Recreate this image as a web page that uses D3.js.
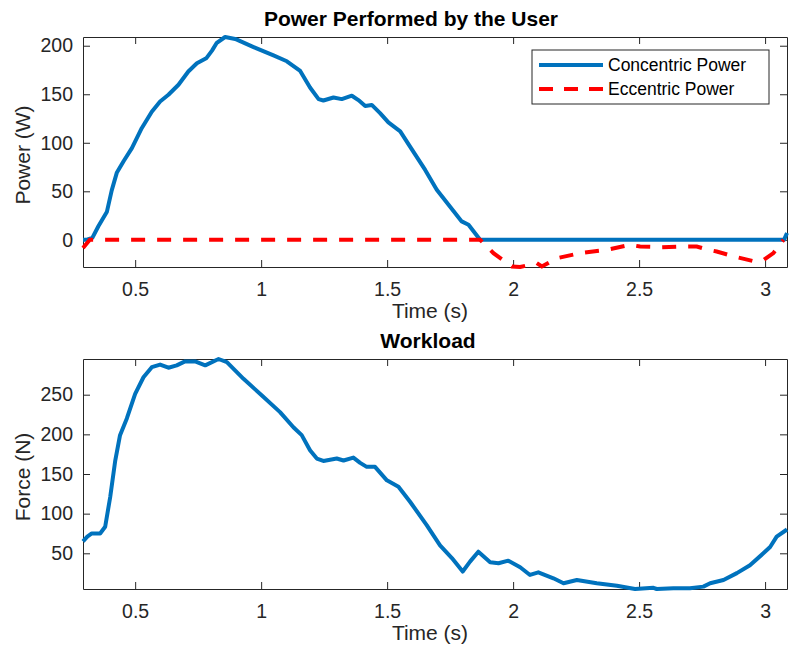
<!DOCTYPE html>
<html>
<head>
<meta charset="utf-8">
<script src="https://cdn.jsdelivr.net/npm/d3@7"></script>
<style>
  body { margin: 0; background: #fff; }
  svg { font-family: "Liberation Sans", Arial, Helvetica, sans-serif; }
</style>
</head>
<body>
<div class="chart"></div>
<script>
// concentric / eccentric power, top panel
const concTime = [0.293, 0.305, 0.33, 0.354, 0.388, 0.407, 0.427, 0.454, 0.487, 0.526, 0.566, 0.599, 0.632, 0.672, 0.711, 0.745, 0.782, 0.805, 0.824, 0.857, 0.897, 0.97, 1.049, 1.102, 1.155, 1.194, 1.228, 1.247, 1.287, 1.32, 1.36, 1.386, 1.413, 1.439, 1.472, 1.505, 1.552, 1.591, 1.651, 1.697, 1.75, 1.796, 1.823, 1.869, 3.075, 3.087];
const concPower = [0, 0, 2, 14, 29, 51, 69, 81, 94.5, 115, 132, 142.6, 149.5, 159.8, 173.5, 182, 187, 195, 203, 209, 207, 198.6, 190, 184, 174, 157, 145, 143.6, 146.7, 145, 148.5, 144, 138, 139, 130.6, 121, 111.7, 96, 72, 51.5, 34, 19, 15.5, 0, 0, 7];

const eccTime = [0.293, 0.32, 1.869, 1.922, 1.995, 2.028, 2.094, 2.114, 2.173, 2.266, 2.372, 2.464, 2.504, 2.583, 2.663, 2.729, 2.775, 2.808, 2.874, 2.954, 2.993, 3.033, 3.073];
const eccPower = [-8.5, 0, 0, -13.7, -27.5, -28, -24, -27.5, -19, -13.7, -10.3, -5.2, -6.9, -7.6, -6.9, -6.9, -10.3, -12, -17, -22, -21, -13.7, 0];

// workload, bottom panel
const forceTime = [0.293, 0.31, 0.328, 0.361, 0.381, 0.401, 0.421, 0.44, 0.467, 0.5, 0.533, 0.566, 0.599, 0.632, 0.665, 0.698, 0.738, 0.778, 0.831, 0.864, 0.93, 1.003, 1.075, 1.128, 1.161, 1.194, 1.221, 1.247, 1.3, 1.327, 1.366, 1.393, 1.419, 1.452, 1.499, 1.545, 1.591, 1.657, 1.71, 1.757, 1.8, 1.829, 1.862, 1.909, 1.942, 1.981, 2.028, 2.067, 2.1, 2.16, 2.2, 2.253, 2.332, 2.412, 2.484, 2.557, 2.57, 2.636, 2.702, 2.755, 2.782, 2.835, 2.888, 2.94, 2.993, 3.02, 3.046, 3.087];
const force = [65, 71, 75, 75, 83.5, 121, 167, 199, 220, 251, 272, 284.7, 288, 284, 287, 292, 292, 287, 295, 291, 270, 249, 228, 209, 199, 180, 169.5, 166.5, 169.5, 167, 170.7, 164, 159, 159, 142, 134, 115, 85.6, 60, 44, 27, 39.5, 52, 38.7, 37.4, 40.7, 32.4, 22.7, 26, 18.5, 12.3, 16.4, 12.3, 9, 5, 6.5, 5, 6, 6, 8, 12.3, 16.4, 25, 35, 50, 58, 71, 80];

const timeTicks = [0.5, 1, 1.5, 2, 2.5, 3];
const powerTicks = [0, 50, 100, 150, 200];
const forceTicks = [50, 100, 150, 200, 250];
const legendLabels = ["Concentric Power", "Eccentric Power"];

const width = 792, height = 650;
const axisColor = "#262626";
const blue = "#0072BD", red = "#FF0000";

const svg = d3.select(".chart").append("svg")
    .attr("width", width)
    .attr("height", height);

const x = d3.scaleLinear()
    .domain(d3.extent(concTime.concat(forceTime)))
    .range([83, 787]);

function panel(top, bottom, yDomain, yTicks, yLabel, title, titleX, titleY) {
    const y = d3.scaleLinear().domain(yDomain).range([bottom, top]);
    const g = svg.append("g");

    const styleAxis = sel => {
        sel.select(".domain").attr("stroke", axisColor);
        sel.selectAll(".tick line").attr("stroke", axisColor);
        sel.selectAll(".tick text").attr("fill", axisColor)
            .style("font-size", "19.5px");
    };

    g.append("g").attr("transform", `translate(0,${bottom})`)
        .call(d3.axisBottom(x).tickValues(timeTicks).tickSize(-7).tickSizeOuter(0).tickPadding(15)
            .tickFormat(d3.format("")))
        .call(styleAxis);
    g.append("g").attr("transform", `translate(0,${top})`)
        .call(d3.axisTop(x).tickValues(timeTicks).tickSize(-7).tickSizeOuter(0).tickFormat(""))
        .call(styleAxis);
    g.append("g").attr("transform", `translate(83,0)`)
        .call(d3.axisLeft(y).tickValues(yTicks).tickSize(-7).tickSizeOuter(0).tickPadding(10))
        .call(styleAxis);
    g.append("g").attr("transform", `translate(787,0)`)
        .call(d3.axisRight(y).tickValues(yTicks).tickSize(-7).tickSizeOuter(0).tickFormat(""))
        .call(styleAxis);
    g.selectAll("text").attr("font-family", null);

    g.append("text")
        .attr("x", 430).attr("y", bottom + 51)
        .attr("text-anchor", "middle")
        .attr("fill", axisColor)
        .style("font-size", "21px")
        .text("Time (s)");

    g.append("text")
        .attr("transform", `translate(30,${(top + bottom) / 2 + 3}) rotate(-90)`)
        .attr("text-anchor", "middle")
        .attr("fill", axisColor)
        .style("font-size", "21px")
        .text(yLabel);

    g.append("text")
        .attr("x", titleX).attr("y", titleY)
        .attr("text-anchor", "middle")
        .style("font-size", "21px")
        .style("font-weight", "bold")
        .text(title);

    return y;
}

const yPow = panel(37, 267, d3.extent(concPower.concat(eccPower)), powerTicks,
    "Power (W)", "Power Performed by the User", 411, 26);
const yForce = panel(359, 589, d3.extent(force), forceTicks,
    "Force (N)", "Workload", 428, 348);

const line = (xs, ys, yScale) => d3.line()
    .x((d, i) => x(xs[i]))
    .y(d => yScale(d))(ys);

svg.append("path")
    .attr("d", line(concTime, concPower, yPow))
    .attr("fill", "none").attr("stroke", blue)
    .attr("stroke-width", 4).attr("stroke-linejoin", "round");

svg.append("path")
    .attr("d", line(eccTime, eccPower, yPow))
    .attr("fill", "none").attr("stroke", red)
    .attr("stroke-width", 4).attr("stroke-dasharray", "14,12");

svg.append("path")
    .attr("d", line(forceTime, force, yForce))
    .attr("fill", "none").attr("stroke", blue)
    .attr("stroke-width", 4).attr("stroke-linejoin", "round");

/* legend */
const legend = svg.append("g").attr("transform", "translate(532,50)");
legend.append("rect")
    .attr("width", 237).attr("height", 54)
    .attr("fill", "white").attr("stroke", axisColor);

legend.selectAll("line.key")
    .data(legendLabels)
    .join("line")
    .attr("class", "key")
    .attr("x1", 7).attr("x2", 71)
    .attr("y1", (d, i) => 15 + i * 24).attr("y2", (d, i) => 15 + i * 24)
    .attr("stroke", (d, i) => i ? red : blue)
    .attr("stroke-width", 4)
    .attr("stroke-dasharray", (d, i) => i ? "14,11" : null);

legend.selectAll("text")
    .data(legendLabels)
    .join("text")
    .attr("x", 76)
    .attr("y", (d, i) => 21 + i * 24)
    .style("font-size", "17.5px")
    .text(d => d);
</script>
</body>
</html>
